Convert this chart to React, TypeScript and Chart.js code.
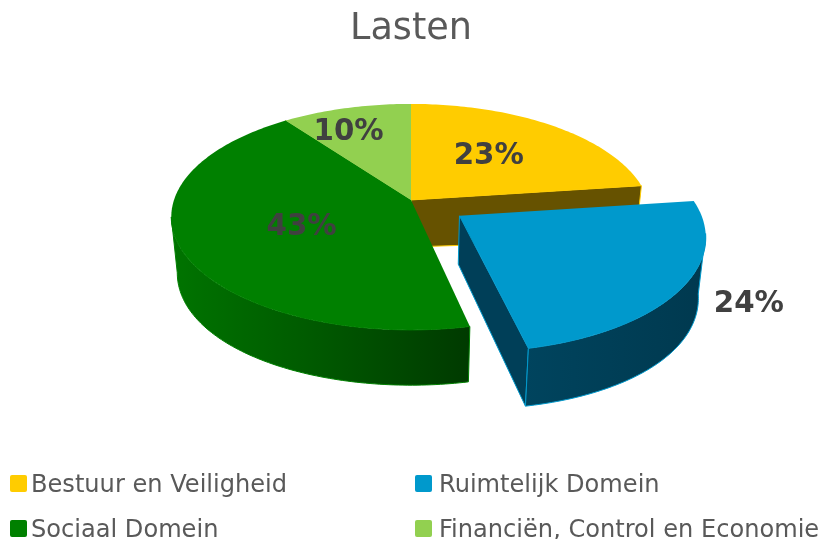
import React, { useEffect, useRef } from "react";
import { Chart, registerables } from "chart.js";

Chart.register(...registerables);

const titleText = "Lasten";
const categories = ["Bestuur en Veiligheid", "Ruimtelijk Domein", "Sociaal Domein", "Financiën, Control en Economie"];
const seriesValues = [22.9, 23.7, 43.3, 10.1];
const sliceColors = ["#FFCC00", "#0099CC", "#008000", "#92D050"];
const wallColors = ["#665200", "#003F58", "#004000", "#3A5320"];
const explodeOffsets = [0, 232, 0, 0];

const FONT = '"DejaVu Sans", Verdana, sans-serif';
const PERSPECTIVE = 0.15;
const TILT = 0.466;
const DEPTH = 47;
const SIDE_BULGE = 8;
const BOTTOM_SHRINK = 0.975;
const STEP = Math.PI / 180;
const SILHOUETTE = Math.asin(PERSPECTIVE);
// per-slice label anchor: distance from the slice apex and angular shift (deg)
const labelAnchors = [
  { r: 134, shift: -3 },
  { r: 296, shift: -2.4 },
  { r: 118, shift: -2 },
  { r: 178, shift: -4.6 },
];
const legendCells = [
  { x: 10, y: 475, tx: 31 },
  { x: 415, y: 475, tx: 439 },
  { x: 10, y: 520, tx: 31 },
  { x: 415, y: 520, tx: 439 },
];

const pie3d = {
  id: "pie3d",
  beforeDatasetDraw(chart: any) {
    const ctx = chart.ctx as CanvasRenderingContext2D;
    const meta = chart.getDatasetMeta(0);
    const arcs = meta.data as any[];
    const geo = arcs.map((arc) => {
      const p = arc.getProps(["x", "y", "startAngle", "endAngle", "outerRadius"], true);
      const off = (arc.options.offset || 0) / 4;
      const mid = (p.startAngle + p.endAngle) / 2;
      return { ...p, off, mid, R: p.outerRadius };
    });
    const proj = (g: any, r: number, a: number, bottom: boolean) => {
      const X = r * Math.cos(a) + g.off * Math.cos(g.mid);
      const Y = -(r * Math.sin(a) + g.off * Math.sin(g.mid));
      const s = 1 / (1 + (PERSPECTIVE * Y) / g.R);
      const bulge = SIDE_BULGE * (X / g.R) * (X / g.R);
      return {
        x: g.x + X * s * (bottom ? BOTTOM_SHRINK : 1),
        y: g.y - TILT * Y * s + (bottom ? DEPTH * s + bulge : 0),
      };
    };
    const poly = (pts: { x: number; y: number }[], fill: any, stroke?: string) => {
      ctx.beginPath();
      pts.forEach((p, i) => (i ? ctx.lineTo(p.x, p.y) : ctx.moveTo(p.x, p.y)));
      ctx.closePath();
      ctx.fillStyle = fill;
      ctx.fill();
      if (stroke) {
        ctx.strokeStyle = stroke;
        ctx.lineWidth = 1;
        ctx.stroke();
      }
    };
    const rimRange = (g: any, a0: number, a1: number, bottom: boolean) => {
      const pts = [];
      const n = Math.max(1, Math.ceil(Math.abs(a1 - a0) / STEP));
      for (let i = 0; i <= n; i++) pts.push(proj(g, g.R, a0 + ((a1 - a0) * i) / n, bottom));
      return pts;
    };
    const radialWall = (i: number, a: number) => {
      const g = geo[i];
      poly(
        [proj(g, 0, a, false), proj(g, g.R, a, false), proj(g, g.R, a, true), proj(g, 0, a, true)],
        wallColors[i],
        sliceColors[i],
      );
    };
    const rimWall = (i: number) => {
      const g = geo[i];
      const a0 = Math.max(g.startAngle, SILHOUETTE);
      const a1 = Math.min(g.endAngle, Math.PI - SILHOUETTE);
      if (a1 <= a0) return;
      const top = rimRange(g, a0, a1, false);
      const bot = rimRange(g, a1, a0, true);
      const xs = [...top, ...bot].map((p) => p.x);
      const grad = ctx.createLinearGradient(Math.min(...xs), 0, Math.max(...xs), 0);
      if (i === 2) {
        grad.addColorStop(0, "#007400");
        grad.addColorStop(0.5, "#005800");
        grad.addColorStop(1, "#003A00");
      } else {
        grad.addColorStop(0, "#00445E");
        grad.addColorStop(1, "#00394F");
      }
      poly([...top, ...bot], grad, sliceColors[i]);
    };
    const topFace = (i: number) => {
      const g = geo[i];
      poly([proj(g, 0, g.startAngle, false), ...rimRange(g, g.startAngle, g.endAngle, false)], sliceColors[i]);
    };
    const facesFront = (a: number, normalSign: number) => Math.sin(a + (normalSign * Math.PI) / 2) > 0;

    ctx.save();
    const order = arcs.map((_, i) => i);
    const fixed = order.filter((i) => geo[i].off === 0);
    const lifted = order.filter((i) => geo[i].off !== 0);
    const walls = (i: number) => {
      const g = geo[i];
      if (facesFront(g.startAngle, -1)) radialWall(i, g.startAngle);
      if (facesFront(g.endAngle, 1)) radialWall(i, g.endAngle);
      if (g.startAngle < Math.PI && g.endAngle > 0) rimWall(i);
    };
    fixed.forEach(walls);
    fixed.forEach(topFace);
    lifted.forEach((i) => {
      walls(i);
      topFace(i);
    });

    // percentage labels
    const total = (chart.data.datasets[0].data as number[]).reduce((a, b) => a + b, 0);
    ctx.font = `bold 29.3px ${FONT}`;
    ctx.fillStyle = "#404040";
    ctx.textAlign = "center";
    ctx.textBaseline = "middle";
    geo.forEach((g, i) => {
      const a = labelAnchors[i];
      const p = proj(g, a.r, g.mid + a.shift * STEP, false);
      const v = chart.data.datasets[0].data[i] as number;
      ctx.fillText(`${Math.round((v / total) * 100)}%`, p.x, p.y + 2);
    });

    // legend in two aligned columns
    ctx.font = `24.1px ${FONT}`;
    ctx.textAlign = "left";
    (chart.data.labels as string[]).forEach((label, i) => {
      const c = legendCells[i];
      ctx.beginPath();
      ctx.roundRect(c.x, c.y, 17, 17, 2);
      ctx.fillStyle = sliceColors[i];
      ctx.fill();
      ctx.fillStyle = "#595959";
      ctx.fillText(label, c.tx, c.y + 10.5);
    });
    ctx.restore();
    return false;
  },
};

export default function App() {
  const ref = useRef<HTMLCanvasElement | null>(null);
  useEffect(() => {
    const chart = new Chart(ref.current as HTMLCanvasElement, {
      type: "pie",
      data: {
        labels: categories,
        datasets: [
          {
            data: seriesValues,
            backgroundColor: sliceColors,
            offset: explodeOffsets,
            borderWidth: 0,
          } as any,
        ],
      },
      options: {
        responsive: false,
        animation: false,
        radius: 237,
        layout: { padding: { bottom: 191 } },
        plugins: {
          legend: { display: false },
          tooltip: { enabled: false },
          title: {
            display: true,
            text: titleText,
            color: "#595959",
            font: { family: FONT, size: 36.6, weight: "normal" },
            padding: { top: 8, bottom: 0 },
          },
        },
      } as any,
      plugins: [pie3d as any],
    });
    return () => chart.destroy();
  }, []);
  return (
    <div style={{ position: "absolute", left: 0, top: 0, width: 822, height: 539, background: "#fff" }}>
      <canvas ref={ref} width={822} height={539} style={{ display: "block" }} />
    </div>
  );
}
